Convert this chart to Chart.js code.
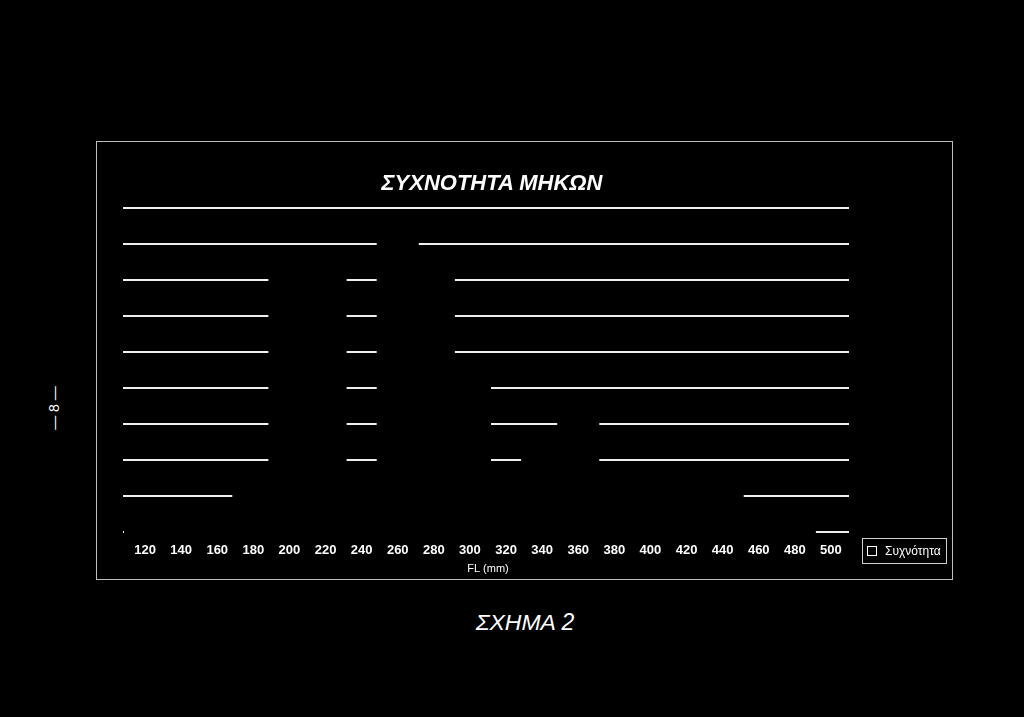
<!DOCTYPE html>
<html>
<head>
    <meta charset="utf-8">
    <title>ΣΥΧΝΟΤΗΤΑ ΜΗΚΩΝ</title>
    <style>
        body {
            margin: 0;
            width: 1024px;
            height: 717px;
            background: #000;
            font-family: "Liberation Sans", Arial, sans-serif;
            color: #fff;
            position: relative;
            overflow: hidden;
        }
        .frame {
            position: absolute;
            left: 96px;
            top: 141px;
            width: 855px;
            height: 437px;
            border: 1px solid #bdbdbd;
        }
        .chart-box {
            position: absolute;
            left: 96px;
            top: 141px;
            width: 856px;
            height: 438px;
        }
        h2 {
            position: absolute;
            left: 292px;
            width: 400px;
            top: 170px;
            margin: 0;
            text-align: center;
            font-size: 22px;
            line-height: 26px;
            font-weight: bold;
            font-style: italic;
        }
        .legend {
            position: absolute;
            left: 862px;
            top: 538px;
            width: 83px;
            height: 24px;
            border: 1px solid #d0d0d0;
            font-size: 12px;
            line-height: 24px;
        }
        .legend span.box {
            position: absolute;
            left: 4px;
            top: 7px;
            width: 8px;
            height: 8px;
            border: 1.5px solid #fff;
        }
        .legend span.txt {
            position: absolute;
            left: 22px;
            top: 0;
        }
        .figure {
            position: absolute;
            left: 425px;
            width: 200px;
            top: 609px;
            text-align: center;
            font-size: 23px;
            font-style: italic;
        }
        .page {
            position: absolute;
            left: 24px;
            top: 400px;
            width: 60px;
            text-align: center;
            font-size: 14px;
            transform: rotate(-90deg);
        }
    </style>
    <script src="https://cdn.jsdelivr.net/npm/chart.js@4.4.1/dist/chart.umd.min.js"></script>
</head>
<body>
    <div class="frame"></div>
    <div class="chart-box"><canvas id="lenChart"></canvas></div>
    <h2>ΣΥΧΝΟΤΗΤΑ ΜΗΚΩΝ</h2>
    <div class="legend"><span class="box"></span><span class="txt">Συχνότητα</span></div>
    <div class="figure">ΣΧΗΜΑ 2</div>
    <div class="page">— 8 —</div>
    <script>
        // length classes (FL, mm) and how many fish fell in each
        const lengths = ['120', '140', '160', '180', '200', '220', '240', '260', '280', '300',
                         '320', '340', '360', '380', '400', '420', '440', '460', '480', '500'];
        const counts = [1, 1, 1, 3, 15, 15, 3, 17, 15, 9, 3, 5, 7, 3, 3, 3, 3, 1, 1, 0];
        const yMax = 18;
        const yStep = 2;

        const ctx = document.getElementById('lenChart').getContext('2d');
        const lenChart = new Chart(ctx, {
            type: 'bar',
            data: {
                labels: lengths,
                datasets: [{
                    label: 'Συχνότητα',
                    data: counts,
                    backgroundColor: '#000',
                    borderWidth: 0,
                    categoryPercentage: 1,
                    barPercentage: 1,
                    clip: false,
                    // black bars hide the grid behind them, zero line included
                    inflateAmount: (c) => (c.raw > 0 ? 3 : 0)
                }]
            },
            options: {
                responsive: true,
                maintainAspectRatio: false,
                animation: false,
                devicePixelRatio: 1,
                layout: {
                    padding: { top: 67, right: 103, left: 0, bottom: 0 }
                },
                plugins: {
                    legend: { display: false },
                    title: { display: false },
                    tooltip: { enabled: false }
                },
                scales: {
                    x: {
                        afterFit: (scale) => { scale.height = 47; },
                        grid: { display: false, drawTicks: false },
                        border: { display: false },
                        ticks: {
                            color: '#fff',
                            padding: 11,
                            maxRotation: 0,
                            autoSkip: false,
                            font: { family: 'Liberation Sans', size: 13, weight: 'bold' }
                        },
                        title: {
                            display: true,
                            text: 'FL (mm)',
                            color: '#fff',
                            padding: { top: 3, bottom: 3 },
                            font: { family: 'Liberation Sans', size: 11 }
                        }
                    },
                    y: {
                        min: 0,
                        max: yMax,
                        afterFit: (scale) => { scale.width = 31; },
                        grid: {
                            color: '#efefef',
                            lineWidth: 2,
                            drawTicks: true,
                            tickLength: 4
                        },
                        border: { display: false },
                        ticks: { display: false, stepSize: yStep }
                    }
                }
            }
        });
    </script>
</body>
</html>
